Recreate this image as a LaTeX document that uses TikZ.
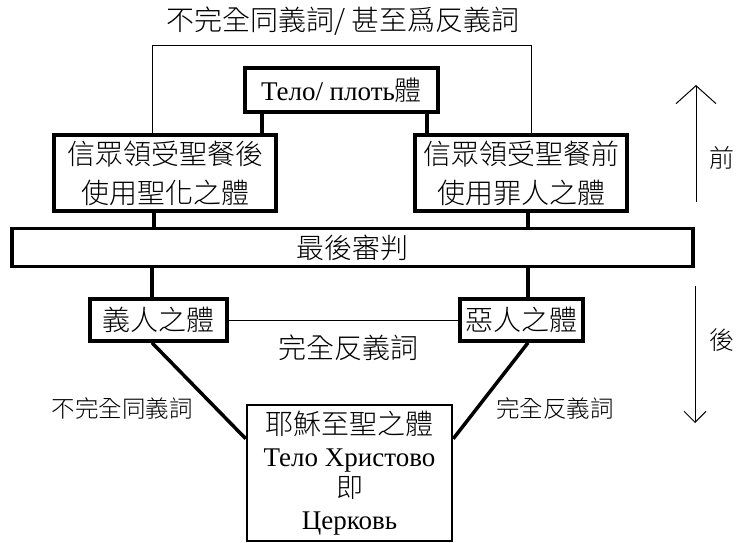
\documentclass[tikz,border=0pt]{standalone}
\usepackage{fontspec}
\setmainfont{Liberation Serif}
\IfFontExistsTF{Noto Sans CJK TC Light}
  {\newfontfamily\cjk{Noto Sans CJK TC Light}}
  {\newfontfamily\cjk{Noto Sans CJK TC}}
\usetikzlibrary{arrows.meta,calc}
\begin{document}
\begin{tikzpicture}[x=1pt,y=-1pt,
  box/.style={draw, line width=3.5pt, inner sep=0pt, align=center,
    font=\cjk\fontsize{28}{39}\selectfont},
  heavy/.style={line width=3.5pt},
  thin/.style={line width=1pt},
  lbl/.style={inner sep=0pt, font=\cjk\fontsize{28}{30}\selectfont},
  small/.style={inner sep=0pt, font=\cjk\fontsize{23.5}{26}\selectfont},
  side/.style={inner sep=0pt, font=\cjk\fontsize{25}{26}\selectfont}]
\useasboundingbox (0,0) rectangle (739,543);

% nodes
\node[lbl] (title) at (343,21) {不完全同義詞/ 甚至爲反義詞};
\node[box, minimum width=193, minimum height=44,
  font=\fontsize{27}{30}\selectfont] (tl) at (341.5,90) {Тело/ плоть{\cjk 體}};
\node[box, minimum width=222, minimum height=76] (lb) at (165,173) {信眾領受聖餐後\\使用聖化之體};
\node[box, minimum width=212, minimum height=76] (rb) at (521,173) {信眾領受聖餐前\\使用罪人之體};
\node[box, minimum width=681, minimum height=38] (lj) at (352.5,247.5) {最後審判};
\node[box, minimum width=137, minimum height=42] (yi) at (158.5,320) {義人之體};
\node[box, minimum width=123, minimum height=42] (ev) at (521.5,320) {惡人之體};
\node[box, line width=2.5pt, minimum width=205, minimum height=136,
  font=\fontsize{27}{31.5}\selectfont] (ch) at (349.5,473)
  {{\cjk\fontsize{28}{31.5}\selectfont 耶穌至聖之體}\\Тело Христово\\{\cjk 即}\\Церковь};
\node[lbl] (opp) at (348,348) {完全反義詞};
\node[small] (ls) at (122,408) {不完全同義詞};
\node[small] (rs) at (555,408) {完全反義詞};
\node[side] (before) at (722,158) {前};
\node[side] (after) at (722,340) {後};

% helper x-positions
\coordinate (xa) at (152,46);
\coordinate (xb) at (531,46);
\coordinate (xc) at (262,0);
\coordinate (xd) at (427,0);
\coordinate (xe) at (154,0);
\coordinate (xf) at (528,0);
\coordinate (xg) at (152,0);

% outer bracket
\draw[thin] (xa |- lb.north) -- (xa) -- (xb) -- (xb |- rb.north);
% legs of Тело box
\draw[heavy] (xc |- tl.south) -- (xc |- lb.north);
\draw[heavy] (xd |- tl.south) -- (xd |- rb.north);
% to last judgement
\draw[heavy] (xe |- lb.south) -- (xe |- lj.north);
\draw[heavy] (xf |- rb.south) -- (xf |- lj.north);
\draw[heavy] (xg |- lj.south) -- (xg |- yi.north);
\draw[heavy] (xf |- lj.south) -- (xf |- ev.north);
% horizontal thin
\draw[thin] (yi.east) -- (ev.west);
% diagonals
\draw[heavy] (xg |- yi.south) -- ($(ch.north west)+(0,35)$);
\draw[heavy] (xf |- ev.south) -- ($(ch.north east)+(0,35)$);

% time arrows
\coordinate (ua) at (696,202);
\coordinate (ub) at (696,85);
\coordinate (da) at (695,286);
\coordinate (db) at (695,423);
\draw[thin, -{Straight Barb[length=18pt,width=40pt,line width=1pt]}] (ua) -- (ub);
\draw[thin, -{Straight Barb[length=11pt,width=22pt,line width=1pt]}] (da) -- (db);
\end{tikzpicture}
\end{document}
